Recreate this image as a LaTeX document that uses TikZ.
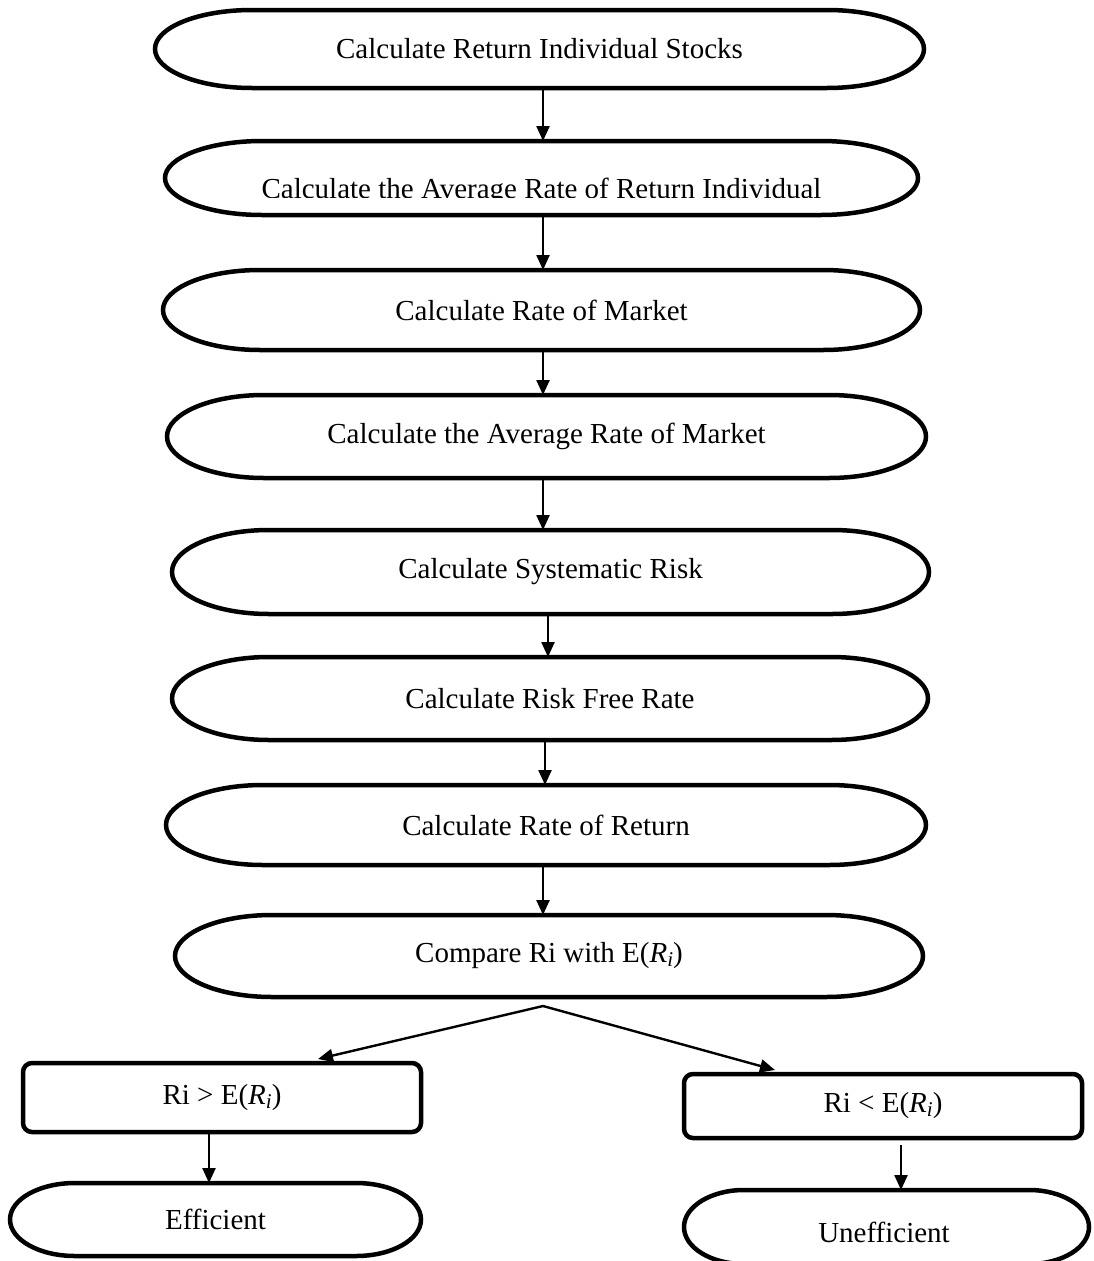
\documentclass[tikz,border=0pt]{standalone}
\usepackage{fontspec}
\setmainfont{Liberation Serif}
\usetikzlibrary{arrows.meta}
\tikzset{
  x=1pt, y=1pt,
  stadium/.style={rectangle, draw=none, inner sep=0pt, outer sep=0pt,
    font=\fontsize{29}{34}\selectfont},
  outline/.style={line width=4.5pt, black},
  decision/.style={rectangle, draw, line width=4.5pt, rounded corners=9pt,
    inner sep=0pt, outer sep=0pt, font=\fontsize{29}{34}\selectfont},
  arr/.style={line width=2.4pt, -{Triangle[length=15pt,width=13pt]}},
}
\newcommand\Rsub{\textit{R}\raisebox{-0.28ex}{\fontsize{21}{24}\selectfont\textit{i}}}
% #1 node name, #2 horizontal radius of the end caps, #3 vertical radius
\newcommand\stadiumline[3]{%
  \draw[outline] ([xshift=#2]#1.north west) -- ([xshift=-#2]#1.north east)
    arc[start angle=90,end angle=-90,x radius=#2,y radius=#3]
    -- ([xshift=#2]#1.south west)
    arc[start angle=270,end angle=90,x radius=#2,y radius=#3] -- cycle;}
\begin{document}
\begin{tikzpicture}
\path[use as bounding box, clip] (0,0) rectangle (1094,-1261);
\fill[white] (0,0) rectangle (1094,-1261);

\node[stadium, minimum width=769pt, minimum height=78pt] (s1) at (539.5,-49) {Calculate Return Individual Stocks};
\stadiumline{s1}{97pt}{39pt}
\node[stadium, minimum width=753pt, minimum height=74pt] (s2) at (541.5,-178) {};
\begin{scope}
  \clip (170,-141) rectangle (915,-197);
  \node[font=\fontsize{29}{34}\selectfont, anchor=base] (t2) at (541.5,-198) {Calculate the Average Rate of Return Individual};
\end{scope}
\stadiumline{s2}{97pt}{37pt}
\node[stadium, minimum width=757pt, minimum height=80pt] (s3) at (541.5,-310) {Calculate Rate of Market};
\stadiumline{s3}{97pt}{40pt}
\node[stadium, minimum width=759pt, minimum height=83pt] (s4) at (546.5,-436.5) {Calculate the Average Rate of Market};
\stadiumline{s4}{97pt}{41.5pt}
\node[stadium, minimum width=757pt, minimum height=84pt] (s5) at (550.5,-572) {Calculate Systematic Risk};
\stadiumline{s5}{97pt}{42pt}
\node[stadium, minimum width=756pt, minimum height=83pt] (s6) at (550,-698.5) {Calculate Risk Free Rate};
\stadiumline{s6}{97pt}{41.5pt}
\node[stadium, minimum width=760pt, minimum height=80pt] (s7) at (546,-825) {Calculate Rate of Return};
\stadiumline{s7}{97pt}{40pt}
\node[stadium, minimum width=748pt, minimum height=82pt] (s8) at (549,-956) {Compare Ri with E(\Rsub)};
\stadiumline{s8}{97pt}{41pt}

\node[decision, minimum width=398pt, minimum height=69pt] (b1) at (222,-1097.5) {Ri > E(\Rsub)};
\node[decision, minimum width=398pt, minimum height=64pt] (b2) at (883,-1106) {Ri < E(\Rsub)};

\node[stadium, minimum width=411pt, minimum height=73pt] (e1) at (215.5,-1219.5) {Efficient};
\stadiumline{e1}{65pt}{36.5pt}
\node[stadium, minimum width=405pt, minimum height=74pt] (e2) at (886.5,-1227) {};
\node[font=\fontsize{29}{34}\selectfont] (t9) at (884,-1232) {Unefficient};
\stadiumline{e2}{60pt}{37pt}

\draw[arr] ([xshift=3.5pt]s1.south) -- ([xshift=1.5pt]s2.north);
\draw[arr] ([xshift=1.5pt]s2.south) -- ([xshift=1.5pt]s3.north);
\draw[arr] ([xshift=1.5pt]s3.south) -- ([xshift=-3.5pt]s4.north);
\draw[arr] ([xshift=-3.5pt]s4.south) -- ([xshift=-7.5pt]s5.north);
\draw[arr] ([xshift=-2.5pt]s5.south) -- ([xshift=-2pt]s6.north);
\draw[arr] ([xshift=-5pt]s6.south) -- ([xshift=-1pt]s7.north);
\draw[arr] ([xshift=-3pt]s7.south) -- ([xshift=-6pt]s8.north);
\coordinate (fork) at ([xshift=-6pt,yshift=-9pt]s8.south);
\draw[arr] (fork) -- ([xshift=96pt,yshift=4pt]b1.north);
\draw[arr] (fork) -- ([xshift=-108pt,yshift=4pt]b2.north);
\draw[arr] ([xshift=-13pt]b1.south) -- ([xshift=-6.5pt]e1.north);
\draw[arr] ([xshift=18pt,yshift=-7pt]b2.south) -- ([xshift=14.5pt]e2.north);
\end{tikzpicture}
\end{document}
